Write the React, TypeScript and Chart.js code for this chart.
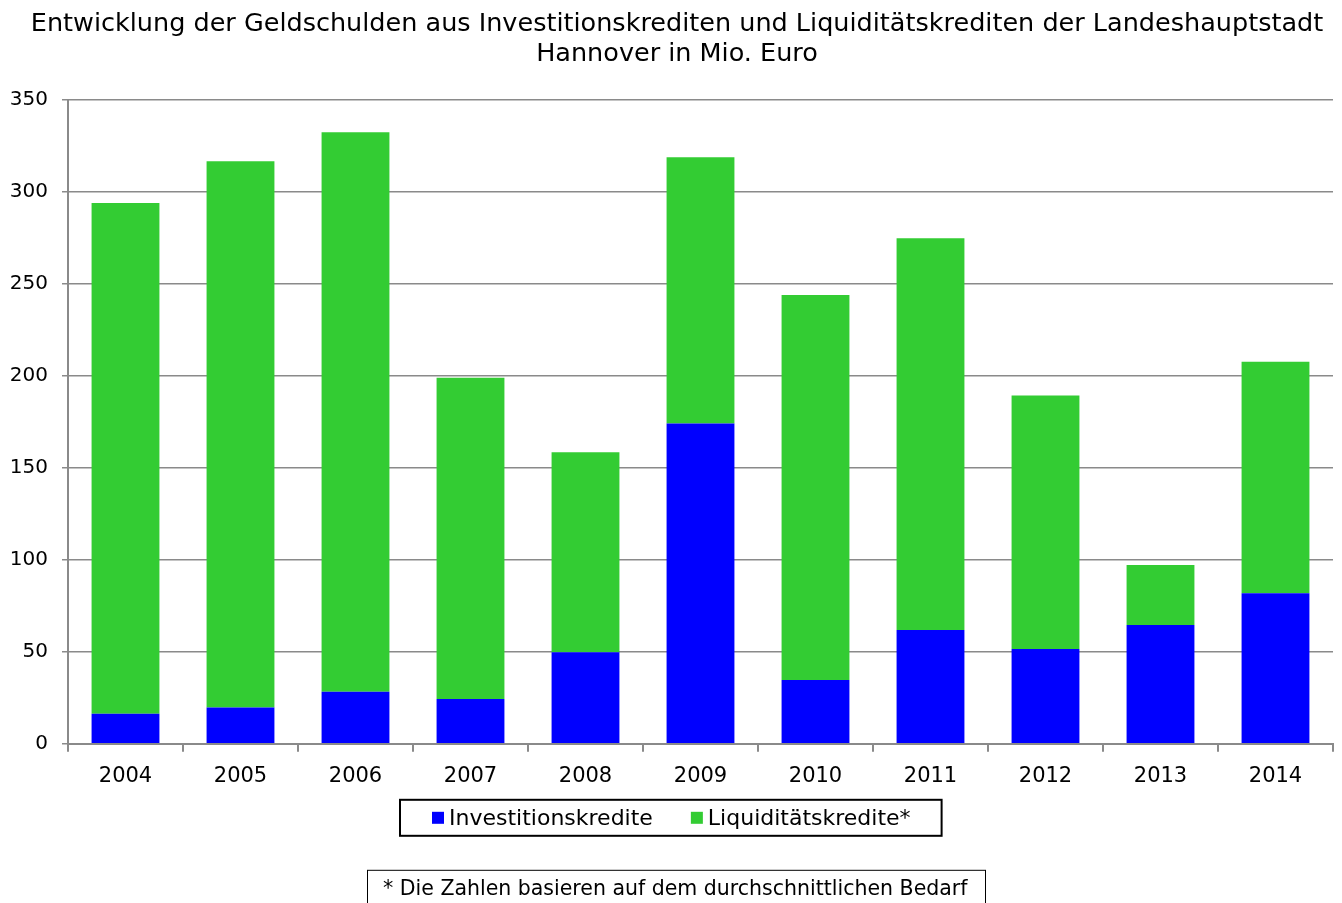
import React, { useEffect, useRef } from "react";
import { Chart, registerables } from "chart.js";

Chart.register(...registerables);

const years = ["2004", "2005", "2006", "2007", "2008", "2009", "2010", "2011", "2012", "2013", "2014"];
const investitionskredite = [16.3, 19.7, 28.3, 24.4, 49.8, 174.2, 34.7, 61.9, 51.5, 64.6, 81.9];
const liquiditaetskredite = [277.8, 297.1, 304.3, 174.6, 108.8, 144.7, 209.3, 213.0, 137.9, 32.6, 125.9];
const titleLines = [
  "Entwicklung der Geldschulden aus Investitionskrediten und Liquiditätskrediten der Landeshauptstadt",
  "Hannover in Mio. Euro",
];
const footnote = "* Die Zahlen basieren auf dem durchschnittlichen Bedarf";
const FONT = "'DejaVu Sans', Verdana, sans-serif";

const boxPlugin = {
  id: "boxes",
  afterLayout(chart: any) {
    if (chart.titleBlock) {
      chart.titleBlock.left = 21;
    }
  },
  afterDraw(chart: any) {
    const ctx = chart.ctx;
    const area = chart.chartArea;
    const ds = chart.data.datasets;
    ctx.save();
    // legend
    ctx.font = `22px ${FONT}`;
    const sq = 12;
    const padL = 32, padR = 31, gapBox = 5, gapItem = 38;
    const widths = ds.map((d: any) => ctx.measureText(d.label).width);
    let total = padL + padR;
    widths.forEach((w: number, i: number) => {
      total += sq + gapBox + w + (i < widths.length - 1 ? gapItem : 0);
    });
    const lx0 = Math.round(chart.width / 2 - total / 2);
    const ly0 = area.bottom + 56;
    const lh = 36;
    ctx.strokeStyle = "#000";
    ctx.lineWidth = 2;
    ctx.strokeRect(lx0, ly0, total, lh);
    let x = lx0 + padL;
    const cy = ly0 + lh / 2;
    ctx.textBaseline = "middle";
    ctx.textAlign = "left";
    ds.forEach((d: any, i: number) => {
      ctx.fillStyle = d.backgroundColor;
      ctx.fillRect(x, cy - sq / 2, sq, sq);
      x += sq + gapBox;
      ctx.fillStyle = "#000";
      ctx.fillText(d.label, x, cy + 1);
      x += widths[i] + gapItem;
    });
    // footnote box
    ctx.font = `20.5px ${FONT}`;
    const w = ctx.measureText(footnote).width;
    const cx = chart.width / 2 + 4;
    const bx0 = Math.round(cx - w / 2 - 16);
    const bx1 = Math.round(cx + w / 2 + 18);
    const by0 = area.bottom + 126;
    ctx.strokeStyle = "#000";
    ctx.lineWidth = 1;
    ctx.strokeRect(bx0 + 0.5, by0 + 0.5, bx1 - bx0, 60);
    ctx.fillStyle = "#000";
    ctx.fillText(footnote, bx0 + 16, by0 + 20);
    ctx.restore();
  },
};

export default function App() {
  const ref = useRef<HTMLCanvasElement | null>(null);
  useEffect(() => {
    if (!ref.current) return;
    const chart = new Chart(ref.current, {
      type: "bar",
      data: {
        labels: years,
        datasets: [
          {
            label: "Investitionskredite",
            data: investitionskredite,
            backgroundColor: "#0000FF",
            borderWidth: 0,
            barPercentage: 0.59,
            categoryPercentage: 1,
          },
          {
            label: "Liquiditätskredite*",
            data: liquiditaetskredite,
            backgroundColor: "#33CC33",
            borderWidth: 0,
            barPercentage: 0.59,
            categoryPercentage: 1,
          },
        ],
      },
      options: {
        responsive: false,
        animation: false,
        layout: { padding: { left: 0, right: 9, top: 0, bottom: 102 } },
        plugins: {
          tooltip: { enabled: false },
          legend: { display: false },
          title: {
            display: true,
            text: titleLines,
            color: "#000",
            font: { family: FONT, size: 25.5, weight: "normal", lineHeight: 1.18 },
            padding: { top: 9, bottom: 31 },
          },
        },
        scales: {
          x: {
            stacked: true,
            grid: {
              offset: true,
              drawOnChartArea: false,
              drawTicks: true,
              tickLength: 8,
              color: "#8a8a8a",
              lineWidth: 2,
            },
            border: { color: "#8a8a8a", width: 2 },
            ticks: { color: "#000", font: { family: FONT, size: 21 }, padding: 12 },
          },
          y: {
            stacked: true,
            min: 0,
            max: 350,
            afterFit: (scale: any) => {
              scale.width = 68;
            },
            ticks: { stepSize: 50, color: "#000", font: { family: FONT, size: 20 }, padding: 14 },
            grid: { color: "#8a8a8a", lineWidth: 1.5, tickLength: 6 },
            border: { color: "#8a8a8a", width: 2 },
          },
        },
      } as any,
      plugins: [boxPlugin],
    });
    return () => chart.destroy();
  }, []);
  return (
    <div style={{ position: "fixed", left: 0, top: 0, width: 1342, height: 903, background: "#fff" }}>
      <canvas ref={ref} width={1342} height={903} />
    </div>
  );
}
